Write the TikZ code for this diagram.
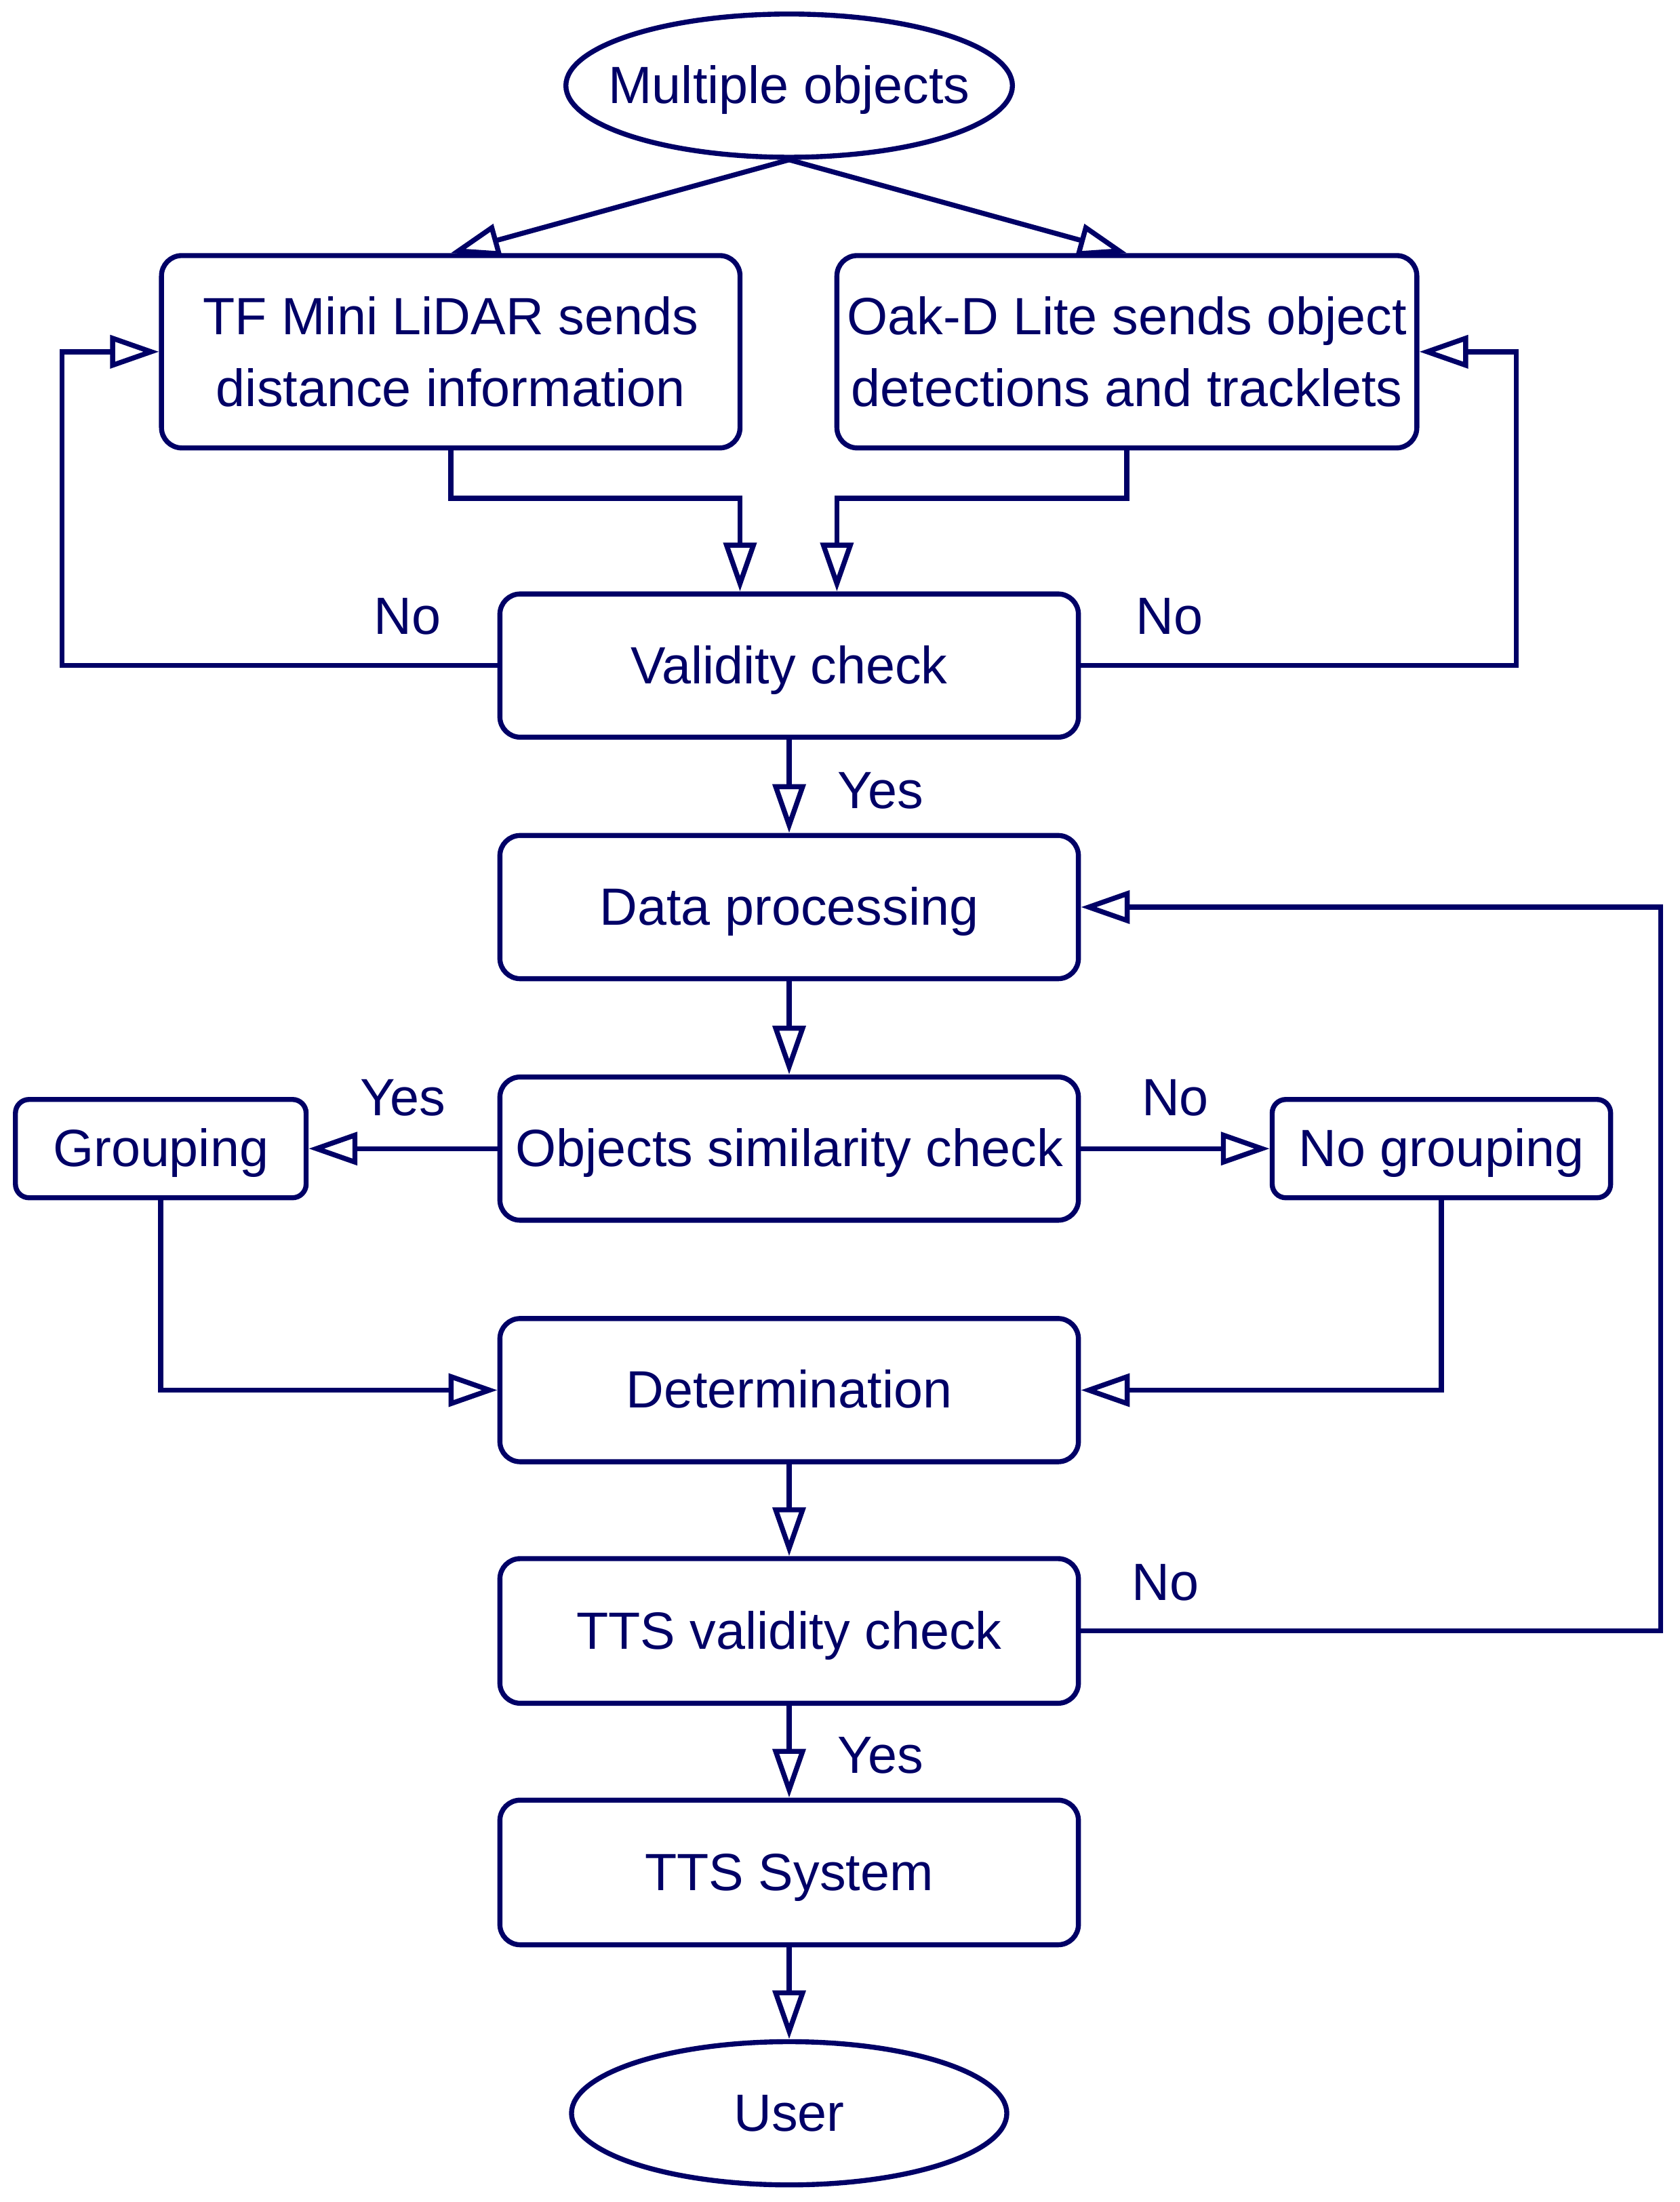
\documentclass[tikz,border=0pt]{standalone}
\usepackage{fontspec}
\setmainfont{Liberation Sans}
\usetikzlibrary{arrows.meta,shapes.geometric}
\definecolor{navy}{RGB}{0,0,102}
\begin{document}
\begin{tikzpicture}[x=0.20711mm, y=-0.20711mm,
  every node/.style={text=navy, font=\fontsize{22pt}{30pt}\selectfont},
  box/.style={draw=navy, line width=2.1pt, rounded corners=3mm, minimum width={412*0.20711mm}, minimum height={102*0.20711mm}, inner sep=0pt, align=center},
  one/.style={text height=20pt, text depth=5pt},
  smallbox/.style={draw=navy, line width=2.1pt, rounded corners=2mm, minimum height={70*0.20711mm}, inner sep=0pt, text height=20pt, text depth=5pt},
  oval/.style={draw=navy, line width=2.1pt, ellipse, inner sep=0pt},
  ovaltext/.style={text height=20pt, text depth=5pt, inner sep=0pt},
  lbl/.style={inner sep=0pt},
  arr/.style={draw=navy, line width=2.1pt, -{Triangle[open, length=7.2mm, width=4.8mm]}}
]
\useasboundingbox (0,0) rectangle (1196,1568.2);

% nodes
\node[oval, minimum width={318*0.20711mm}, minimum height={102*0.20711mm},
      label={[ovaltext]center:Multiple objects}] (mo) at (562,61) {};
\node[box, minimum height={137*0.20711mm}] (tf) at (321,250.5) {TF Mini LiDAR sends\\distance information};
\node[box, minimum width={413*0.20711mm}, minimum height={137*0.20711mm}] (oak) at (802.5,250.5) {Oak-D Lite sends object\\detections and tracklets};
\node[box, one] (vc) at (562,474) {Validity check};
\node[box, one] (dp) at (562,646) {Data processing};
\node[box, one] (osc) at (562,818) {Objects similarity check};
\node[smallbox, minimum width={207*0.20711mm}] (grp) at (114.5,818) {Grouping};
\node[smallbox, minimum width={241*0.20711mm}] (ngrp) at (1026.5,818) {No grouping};
\node[box, one] (det) at (562,990) {Determination};
\node[box, one, minimum height={103*0.20711mm}] (tts) at (562,1161.5) {TTS validity check};
\node[box, one, minimum height={103*0.20711mm}] (sys) at (562,1333.5) {TTS System};
\node[oval, minimum width={310*0.20711mm}, minimum height={102*0.20711mm},
      label={[ovaltext]center:User}] (user) at (562,1505) {};

% labels
\node[lbl] (no1) at (290,439) {No};
\node[lbl] (no2) at (833,439) {No};
\node[lbl] (yes1) at (627,563) {Yes};
\node[lbl] (yes2) at (287,782) {Yes};
\node[lbl] (no3) at (837,782) {No};
\node[lbl] (no4) at (830,1127) {No};
\node[lbl] (yes3) at (627,1250) {Yes};

% connectors
\draw[arr] (mo.south) -- (tf.north);
\draw[arr] (mo.south) -- (oak.north);
\draw[arr] (tf.south) -- ++(0,34) -| ([xshift=-7.25mm]vc.north);
\draw[arr] (oak.south) -- ++(0,34) -| ([xshift=7.04mm]vc.north);
\draw[arr] (vc.west) -- ++(-310,0) |- (tf.west);
\draw[arr] (vc.east) -- ++(310,0) |- (oak.east);
\draw[arr] (vc.south) -- (dp.north);
\draw[arr] (dp.south) -- (osc.north);
\draw[arr] (osc.west) -- (grp.east);
\draw[arr] (osc.east) -- (ngrp.west);
\draw[arr] (grp.south) |- (det.west);
\draw[arr] (ngrp.south) |- (det.east);
\draw[arr] (det.south) -- (tts.north);
\draw[arr] (tts.east) -- ++(413,0) |- (dp.east);
\draw[arr] (tts.south) -- (sys.north);
\draw[arr] (sys.south) -- (user.north);
\end{tikzpicture}
\end{document}
